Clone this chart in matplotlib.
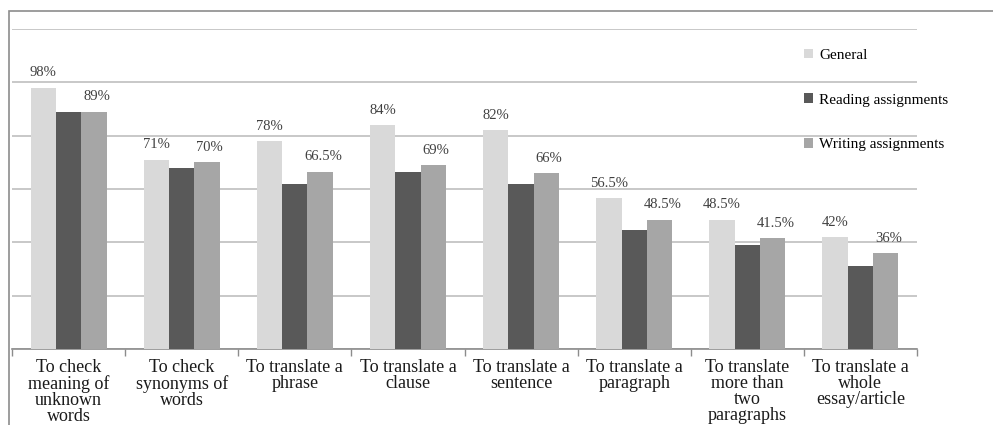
"""Grouped bar chart: purposes of using translation tools."""

import matplotlib.pyplot as plt
import numpy as np
from matplotlib.patches import Rectangle
from matplotlib.ticker import FixedLocator

CATEGORIES = [
    "To check\nmeaning of\nunknown\nwords",
    "To check\nsynonyms of\nwords",
    "To translate a\nphrase",
    "To translate a\nclause",
    "To translate a\nsentence",
    "To translate a\nparagraph",
    "To translate\nmore than\ntwo\nparagraphs",
    "To translate a\nwhole\nessay/article",
]
SERIES = ["General", "Reading assignments", "Writing assignments"]
GENERAL = [98, 71, 78, 84, 82, 56.5, 48.5, 42]
READING = [89, 68, 62, 66.5, 62, 44.5, 39, 31]
WRITING = [89, 70, 66.5, 69, 66, 48.5, 41.5, 36]
GENERAL_LABELS = ["98%", "71%", "78%", "84%", "82%", "56.5%", "48.5%", "42%"]
WRITING_LABELS = ["89%", "70%", "66.5%", "69%", "66%", "48.5%", "41.5%", "36%"]

COLORS = ["#d9d9d9", "#595959", "#a6a6a6"]
W, H = 993, 425


def main() -> None:
    plt.rcParams["font.family"] = ["Liberation Serif", "DejaVu Serif"]
    fig = plt.figure(figsize=(W / 100, H / 100), dpi=100)
    fig.patches.append(Rectangle((9 / W, -0.1), 1.2, 1 - 11 / H + 0.1,
                                 transform=fig.transFigure, fill=False,
                                 edgecolor="#8c8c8c", linewidth=1.2))

    ax = fig.add_axes([12 / W, 1 - 349 / H, (917 - 12) / W, (349 - 29) / H])
    x = np.arange(len(CATEGORIES))
    width = 0.224
    values = [GENERAL, READING, WRITING]
    bars = []
    for i, (vals, color, name) in enumerate(zip(values, COLORS, SERIES)):
        b = ax.bar(x + (i - 1) * width, vals, width, color=color, label=name, zorder=3)
        bars.append(b)

    for rect, lab in zip(bars[0], GENERAL_LABELS):
        ax.annotate(lab, (rect.get_x() + rect.get_width() / 2, rect.get_height()),
                    xytext=(0, 6), textcoords="offset points", ha="center", va="bottom",
                    fontsize=10.5, color="#404040")
    for rect, lab in zip(bars[2], WRITING_LABELS):
        ax.annotate(lab, (rect.get_x() + rect.get_width() / 2, rect.get_height()),
                    xytext=(2, 6), textcoords="offset points", ha="center", va="bottom",
                    fontsize=10.5, color="#404040")

    ax.set_xlim(-0.5, len(CATEGORIES) - 0.5)
    ax.set_ylim(0, 120)
    ax.set_yticks(np.arange(0, 121, 20))
    ax.yaxis.grid(True, color="#bfbfbf", linewidth=1.2, zorder=0)
    ax.set_yticklabels([])
    ax.tick_params(axis="y", length=0)

    ax.set_xticks(x)
    ax.set_xticklabels(CATEGORIES, fontsize=13, linespacing=0.93, color="#1a1a1a")
    ax.tick_params(axis="x", which="major", length=0, pad=7)
    ax.xaxis.set_minor_locator(FixedLocator(np.arange(-0.5, len(CATEGORIES), 1)))
    ax.tick_params(axis="x", which="minor", length=5, color="#8c8c8c", width=1)

    for side in ["top", "right", "left"]:
        ax.spines[side].set_visible(False)
    ax.spines["bottom"].set_color("#8c8c8c")
    ax.spines["bottom"].set_linewidth(1.2)

    ax.legend(loc="upper left", bbox_to_anchor=(790 / W, 1 - 35 / H),
              bbox_transform=fig.transFigure, frameon=False, fontsize=11,
              handlelength=0.6, handleheight=0.6, handletextpad=0.4,
              labelspacing=2.05)

    fig.savefig("out.png", dpi=100)
    plt.close(fig)


if __name__ == "__main__":
    main()
